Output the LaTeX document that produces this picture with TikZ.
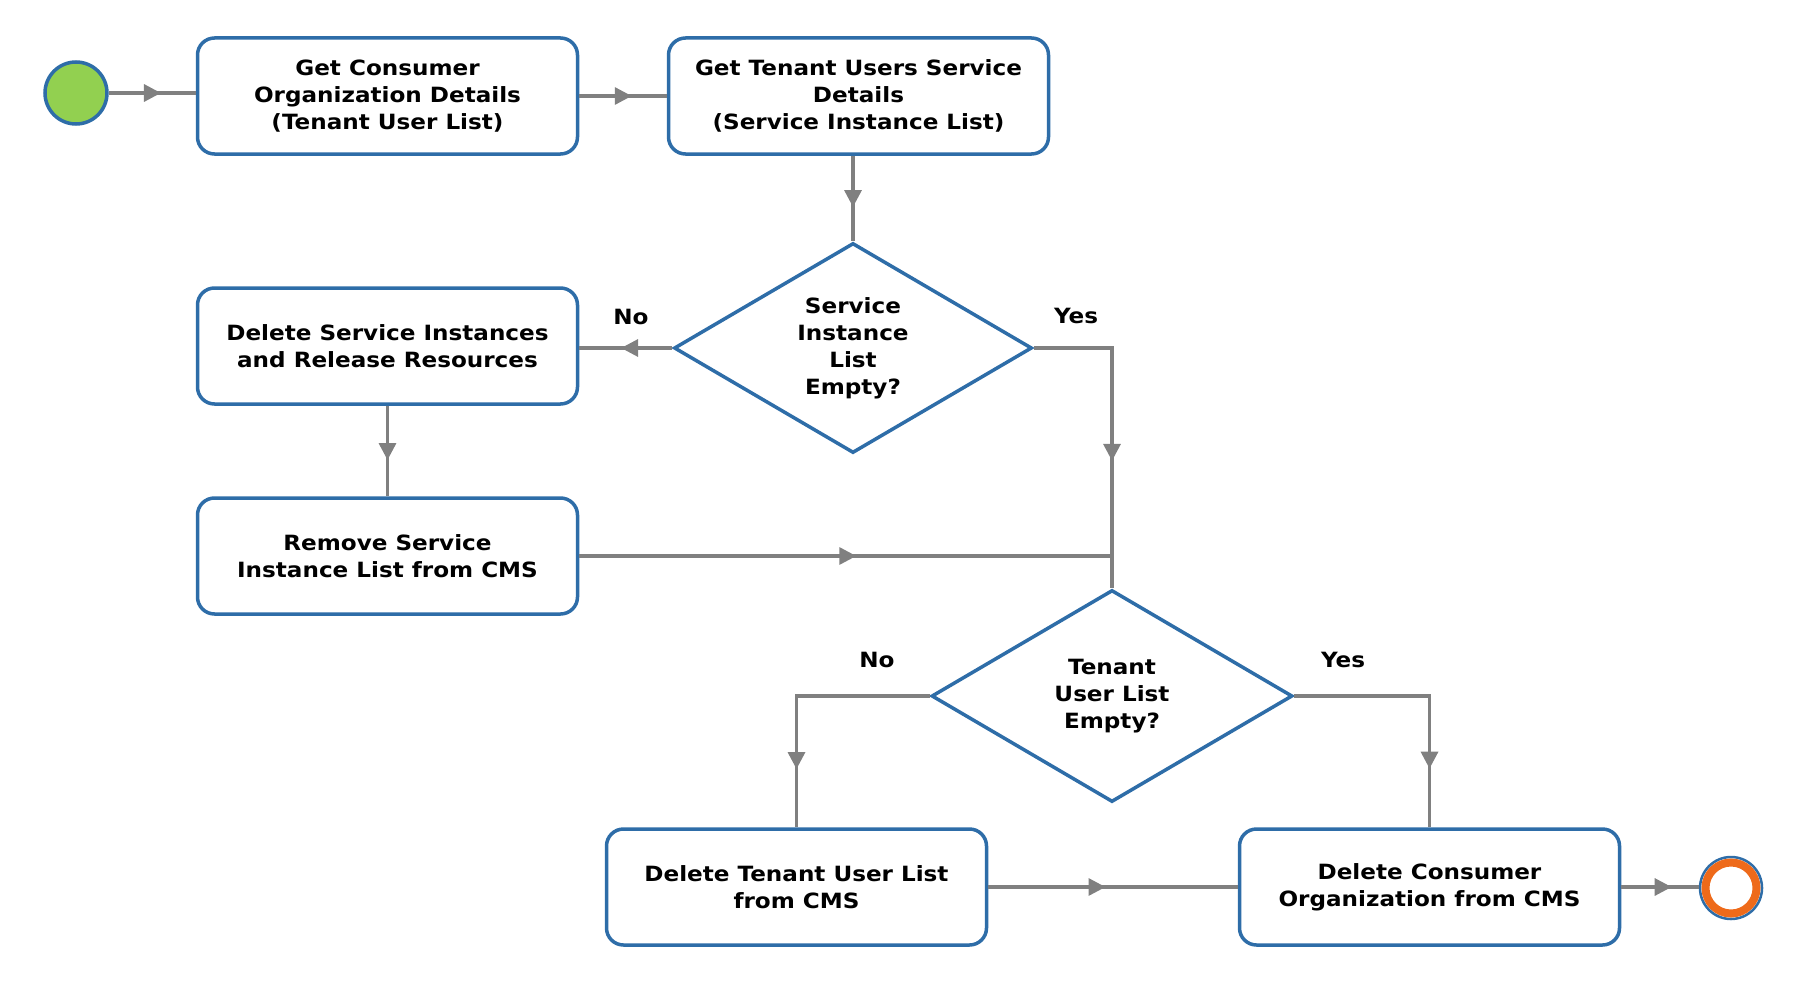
\documentclass[tikz,border=0pt]{standalone}
\usepackage{fontspec}
\setmainfont{DejaVu Sans}[FakeStretch=1.1]
\usetikzlibrary{shapes.geometric,arrows.meta,decorations.markings}
\definecolor{bblue}{HTML}{2E6DA8}
\definecolor{lgray}{HTML}{808080}
\definecolor{sgreen}{HTML}{92D050}
\definecolor{eorange}{HTML}{EE6A1A}
\begin{document}
\begin{tikzpicture}[x=1pt,y=-1pt,
  every node/.style={font=\bfseries\fontsize{21}{27}\selectfont},
  procbox/.style={draw=bblue,line width=3.5pt,rounded corners=17pt,fill=white,
    minimum width=380pt,minimum height=116pt,align=center,inner sep=2pt},
  decbox/.style={draw=bblue,line width=3.5pt,diamond,aspect=1.7,fill=white,
    inner sep=0pt,align=center},
  conn/.style={draw=lgray,line width=3.3pt},
  midarr/.style={postaction={decorate,decoration={markings,
    mark=at position #1 with {\arrow[lgray]{Triangle[length=17pt,width=17pt]}}}}},
  midarr/.default=0.55,
  lbl/.style={font=\bfseries\fontsize{21}{27}\selectfont}]
\useasboundingbox (0,0) rectangle (1803,990);

\node[circle,draw=bblue,line width=3.5pt,fill=sgreen,minimum size=62pt,inner sep=0pt] (start) at (76,93) {};
\node[procbox] (b1) at (387.5,96) {Get Consumer\\Organization Details\\(Tenant User List)};
\node[procbox] (b2) at (858.5,96) {Get Tenant Users Service\\Details\\(Service Instance List)};
\node[decbox,minimum width=358pt,minimum height=210pt] (d1) at (853,348) {Service\\Instance\\List\\Empty?};
\node[procbox] (b3) at (387.5,346) {Delete Service Instances\\and Release Resources};
\node[procbox] (b4) at (387.5,556) {Remove Service\\Instance List from CMS};
\node[decbox,minimum width=361pt,minimum height=212pt] (d2) at (1112,696) {Tenant\\User List\\Empty?};
\node[procbox] (b5) at (796.5,887) {Delete Tenant User List\\from CMS};
\node[procbox] (b6) at (1429.5,887) {Delete Consumer\\Organization from CMS};
\node[circle,draw=bblue,line width=2.5pt,minimum size=62pt,inner sep=0pt] (end) at (1731,888) {};
\node[circle,draw=eorange,line width=8pt,minimum size=51pt,inner sep=0pt] (endring) at (1731,888) {};

\node[lbl] (no1) at (631,317) {No};
\node[lbl] (yes1) at (1076,316) {Yes};
\node[lbl] (no2) at (877,660) {No};
\node[lbl] (yes2) at (1343,660) {Yes};

\path[conn,midarr=0.6] (start.east) -- (start.east -| b1.west);
\path[conn,midarr=0.6] (b1.east) -- (b2.west);
\path[conn,midarr=0.6] (d1.north |- b2.south) -- (d1.north);
\path[conn,midarr=0.55] (d1.west) -- (d1.west -| b3.east);
\path[conn,midarr=0.6] (b3.south) -- (b4.north);
\path[conn,midarr=0.6] (d1.east) -| (d2.north);
\coordinate (j) at (b4.east -| d2.north);
\path[conn,midarr=0.52] (b4.east) -- (j);
\path[conn,midarr=0.78] (d2.west) -| (b5.north);
\path[conn,midarr=0.78] (d2.east) -| (b6.north);
\path[conn,midarr=0.47] (b5.east) -- (b6.west);
\path[conn,midarr=0.65] (b6.east) -- (b6.east -| end.west);
\end{tikzpicture}
\end{document}
